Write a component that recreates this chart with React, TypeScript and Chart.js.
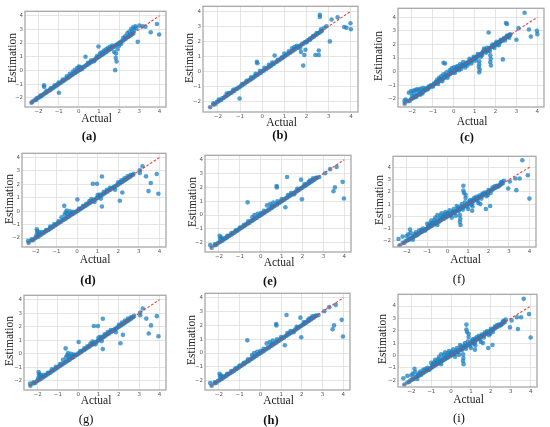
import { useEffect, useRef } from "react"
import { Chart, registerables } from "chart.js"

Chart.register(...registerables)

type Pt = [number, number]

// tick labels shared by every panel
const tickValues = [-2, -1, 0, 1, 2, 3, 4]

// red dashed identity line
const diagonal: Pt[] = [[-2.4, -2.4], [4, 4]]

// dense band along the identity line, common to all panels
const coreBand: Pt[] = [
    [-2.35, -2.36], [-2.2, -2.18], [-2.12, -2.15], [-2.05, -2.02], [-1.98, -1.97], [-1.92, -1.9], [-1.86, -1.88],
    [-1.8, -1.77], [-1.74, -1.74], [-1.68, -1.65], [-1.62, -1.63], [-1.56, -1.54], [-1.5, -1.5], [-1.44, -1.42],
    [-1.38, -1.39], [-1.32, -1.3], [-1.26, -1.27], [-1.2, -1.17], [-1.14, -1.15], [-1.08, -1.05], [-1.02, -1.03],
    [-0.96, -0.93], [-0.9, -0.9], [-0.84, -0.81], [-0.78, -0.79], [-0.72, -0.69], [-0.66, -0.66], [-0.6, -0.57],
    [-0.54, -0.55], [-0.48, -0.45], [-0.42, -0.43], [-0.36, -0.33], [-0.3, -0.3], [-0.24, -0.21], [-0.18, -0.19],
    [-0.12, -0.09], [-0.06, -0.07], [0, 0.02], [0.06, 0.05], [0.12, 0.14], [0.18, 0.17], [0.24, 0.26], [0.3, 0.29],
    [0.36, 0.38], [0.42, 0.41], [0.48, 0.5], [0.54, 0.53], [0.6, 0.62], [0.66, 0.65], [0.72, 0.74], [0.78, 0.77],
    [0.84, 0.86], [0.9, 0.89], [0.96, 0.98], [1.02, 1.01], [1.08, 1.1], [1.14, 1.13], [1.2, 1.22], [1.26, 1.25],
    [1.32, 1.34], [1.38, 1.37], [1.44, 1.46], [1.5, 1.49], [1.56, 1.58], [1.62, 1.61], [1.68, 1.7], [1.74, 1.73],
    [1.8, 1.82], [1.86, 1.85], [1.92, 1.94], [1.98, 1.97], [2.04, 2.06], [2.1, 2.09], [2.16, 2.18], [2.22, 2.21],
    [2.28, 2.3], [2.34, 2.33], [2.4, 2.42], [2.46, 2.45], [2.52, 2.54], [2.58, 2.57], [2.64, 2.66], [2.7, 2.7],
]

const extrasA: Pt[] = [
    [-2.3, -2.28], [-2.1, -2.05], [-1.9, -1.83], [-1.73, -1.09], [-1.72, -1.2], [-1.6, -1.48], [-1.4, -1.3],
    [-1.2, -1.08], [-0.99, -1.63], [-1.0, -0.88], [-0.8, -0.66], [-0.6, -0.43], [-0.45, -0.25], [-0.3, -0.1],
    [-0.2, 0.05], [-0.08, 0.18], [0.0, 0.28], [0.08, 0.25], [0.15, 0.1], [0.33, 1.0], [0.45, 0.55], [0.6, 0.72],
    [0.75, 0.68], [0.9, 1.05], [0.97, 1.75], [1.05, 1.25], [1.15, 1.32], [1.25, 1.45], [1.35, 1.55], [1.45, 1.65],
    [1.55, 1.72], [1.65, 1.8], [1.75, 1.35], [1.8, 0.02], [1.84, 1.23], [1.87, 0.65], [1.83, 0.9], [1.92, 1.55],
    [2.0, 1.8], [2.1, 1.95], [2.2, 2.38], [2.3, 2.5], [2.4, 2.72], [2.5, 2.85], [2.55, 2.6], [2.6, 3.05],
    [2.65, 2.85], [2.7, 3.15], [2.75, 2.95], [2.8, 3.22], [2.85, 3.1], [2.92, 2.09], [3.0, 3.28], [3.15, 3.22],
    [3.3, 3.2], [3.56, 2.79], [3.87, 3.39], [3.98, 2.63],
]

const extrasB: Pt[] = [
    [-2.2, -2.1], [-1.95, -1.85], [-1.6, -1.45], [-1.5, -1.42], [-1.3, -1.2], [-1.02, -1.78], [-0.9, -0.82],
    [-0.7, -0.6], [-0.5, -0.38], [-0.3, -0.15], [-0.24, 0.65], [-0.22, 0.55], [-0.1, 0.05], [0.1, 0.25],
    [0.3, 0.45], [0.45, 0.6], [0.56, 1.07], [0.7, 0.78], [0.9, 0.95], [1.0, 1.2], [1.2, 1.35], [1.35, 1.55],
    [1.45, 1.62], [1.55, 1.7], [1.7, 1.55], [1.85, 0.4], [1.9, 1.1], [1.95, 1.45], [1.75, 1.3], [2.0, 1.95],
    [2.15, 2.1], [2.3, 2.35], [2.4, 1.1], [2.55, 1.1], [2.55, 1.4], [2.45, 2.55], [2.6, 3.75], [2.6, 3.62],
    [2.65, 2.8], [2.8, 2.9], [2.9, 3.0], [3.05, 2.0], [3.13, 3.45], [3.4, 3.6], [3.7, 2.95], [3.8, 2.9],
    [3.98, 3.2], [4.0, 2.8],
]

const extrasC: Pt[] = [
    [-2.36, -2.15], [-2.3, -2.05], [-2.15, -1.55], [-2.05, -1.45], [-1.95, -1.4], [-1.85, -1.35], [-1.76, -1.29],
    [-1.65, -1.3], [-1.55, -1.25], [-1.45, -1.2], [-1.31, -1.22], [-1.2, -1.1], [-1.1, -1.0], [-0.94, -0.87],
    [-1.6, -1.7], [-1.5, -1.6], [-1.8, -1.85], [-0.8, -0.6], [-0.7, -0.45], [-0.6, -0.35], [-0.5, -0.2],
    [-0.49, 0.66], [-0.42, 0.6], [-0.35, -0.05], [-0.2, 0.1], [-0.1, 0.25], [0.0, 0.3], [0.1, 0.35], [0.2, 0.42],
    [0.3, 0.55], [0.4, 0.5], [0.5, 0.45], [0.55, 0.3], [0.6, 0.65], [0.7, 0.6], [0.8, 0.75], [0.9, 0.8],
    [1.0, 0.95], [1.1, 1.05], [1.22, 0.77], [1.22, 0.55], [1.2, 0.35], [1.24, 0.15], [1.22, -0.05], [1.3, 1.1],
    [1.4, 1.5], [1.5, 1.6], [1.6, 1.75], [1.67, 2.88], [1.72, 1.5], [1.75, 1.2], [1.77, 0.95], [1.75, 0.7],
    [1.78, 0.45], [1.9, 1.85], [2.0, 2.05], [2.1, 2.0], [2.2, 2.15], [2.35, 0.9], [2.3, 2.25], [2.4, 2.45],
    [2.5, 3.58], [2.55, 3.5], [2.6, 2.6], [2.7, 2.75], [3.0, 2.35], [3.1, 3.2], [3.39, 4.33], [3.6, 3.1],
    [3.69, 2.58], [3.98, 3.0], [4.0, 2.76],
    [-2.0, -1.75], [-1.9, -1.6], [-1.7, -1.45], [-1.4, -1.35], [-1.25, -1.3], [-1.0, -1.1], [-0.85, -0.75],
    [-0.75, -0.9], [-0.65, -0.55], [-0.55, -0.7], [-0.4, -0.25], [-0.3, -0.45], [-0.15, 0.0], [0.05, -0.1],
    [0.15, 0.25], [0.25, 0.1], [0.35, 0.2], [0.45, 0.7], [0.65, 0.45], [0.75, 0.95], [0.85, 0.6], [0.95, 1.1],
    [1.05, 0.8], [1.15, 1.3], [1.35, 1.2], [1.45, 1.7], [1.55, 1.4], [1.65, 1.55], [1.85, 2.0], [1.95, 1.75],
    [2.05, 2.2], [2.15, 1.95], [2.25, 2.35], [2.45, 2.3], [2.55, 2.65], [2.65, 2.5],
]

// panels (d) and (g)
const extrasD: Pt[] = [
    [-2.37, -2.2], [-2.2, -2.1], [-1.97, -1.8], [-1.95, -1.35], [-1.93, -1.5], [-1.9, -1.65], [-1.85, -1.55],
    [-1.7, -1.55], [-1.5, -1.4], [-1.3, -1.15], [-1.1, -0.95], [-0.9, -0.75], [-0.75, -0.45], [-0.62, 0.4],
    [-0.6, -0.25], [-0.55, -0.1], [-0.5, 0.05], [-0.45, -0.2], [-0.35, 0.0], [-0.3, -0.15], [-0.2, -0.05],
    [0.02, 0.87], [0.1, 0.2], [0.3, 0.4], [0.45, 0.55], [0.6, 0.75], [0.7, 0.9], [0.77, 2.05], [0.97, 2.05],
    [0.85, 0.7], [1.0, 1.2], [1.1, 1.25], [1.16, 0.94], [1.21, 0.35], [1.21, 2.59], [1.3, 1.45], [1.45, 1.6],
    [1.6, 1.75], [1.77, 1.76], [1.85, 1.6], [2.0, 2.15], [2.08, 0.78], [2.15, 2.3], [2.2, 1.4], [2.3, 2.45],
    [2.45, 2.6], [2.6, 2.7], [2.75, 2.8], [3.05, 3.05], [3.05, 2.85], [3.18, 3.35], [3.35, 2.6], [3.47, 1.5],
    [3.58, 2.1], [3.87, 2.78], [3.95, 1.3],
]

// panels (e) and (h)
const extrasE: Pt[] = [
    [-2.42, -2.17], [-2.2, -2.12], [-1.97, -1.5], [-1.95, -1.7], [-1.9, -1.6], [-1.8, -1.7], [-1.6, -1.5],
    [-1.4, -1.3], [-1.2, -1.1], [-1.0, -0.9], [-0.8, -0.7], [-0.63, 0.92], [-0.6, -0.45], [-0.4, -0.15],
    [-0.3, 0.0], [-0.15, 0.1], [0.0, 0.15], [0.15, 0.3], [0.3, 0.7], [0.45, 0.8], [0.55, 0.65], [0.6, 0.9],
    [0.76, 2.1], [0.77, 2.0], [0.8, 1.0], [1.0, 1.15], [1.18, 0.57], [1.26, 2.75], [1.3, 1.45], [1.45, 1.6],
    [1.6, 1.5], [1.75, 1.9], [1.93, 2.56], [1.97, 1.14], [2.1, 2.25], [2.3, 2.4], [2.37, 2.52], [2.5, 2.65],
    [2.65, 2.7], [2.8, 2.75], [3.08, 3.02], [3.32, 3.32], [3.48, 1.72], [3.55, 2.0], [3.63, 3.48], [3.92, 2.4],
    [3.98, 1.2],
]

// panels (f) and (i)
const extrasF: Pt[] = [
    [-2.4, -1.85], [-2.2, -1.65], [-2.0, -1.6], [-1.92, -1.47], [-1.84, -1.08], [-1.8, -1.35], [-1.7, -1.9],
    [-1.68, -1.65], [-1.55, -1.3], [-1.4, -1.15], [-1.2, -1.0], [-1.0, -0.6], [-0.9, -0.7], [-0.8, -0.35],
    [-0.7, -0.5], [-0.6, -0.1], [-0.56, -0.44], [-0.5, 0.1], [-0.5, -0.7], [-0.4, -0.2], [-0.3, 0.25],
    [-0.2, 0.0], [-0.1, 0.35], [0.0, 0.2], [0.1, 0.5], [0.2, -0.1], [0.3, 0.6], [0.4, 0.05], [0.45, 0.85],
    [0.5, 0.7], [0.6, 0.1], [0.62, -0.2], [0.6, -0.45], [0.63, -0.7], [0.7, 1.0], [0.77, 2.5], [0.77, 2.1],
    [0.8, 1.9], [0.88, 1.75], [0.88, 1.5], [1.0, 0.6], [1.1, 1.3], [1.2, 1.36], [1.2, 1.05], [1.22, 0.8],
    [1.2, 0.46], [1.4, 1.6], [1.5, 1.1], [1.6, 1.0], [1.7, 1.85], [1.87, 0.6], [1.97, 1.75], [2.08, 0.85],
    [2.2, 2.35], [2.4, 2.5], [2.6, 2.75], [2.75, 2.9], [2.96, 2.27], [3.04, 2.84], [3.31, 3.09], [3.36, 2.14],
    [3.52, 3.09], [3.65, 4.58], [3.92, 3.35], [4.0, 1.45],
    [-1.6, -1.45], [-1.5, -1.55], [-1.3, -1.1], [-1.1, -1.15], [-0.95, -0.85], [-0.85, -0.55], [-0.75, -0.65],
    [-0.65, -0.3], [-0.45, -0.35], [-0.35, 0.05], [-0.25, -0.1], [-0.15, 0.2], [-0.05, 0.05], [0.05, 0.3],
    [0.15, 0.1], [0.25, 0.4], [0.35, 0.3], [0.55, 0.45], [0.65, 0.8], [0.75, 0.55], [0.85, 1.15], [0.95, 0.8],
    [1.05, 1.2], [1.15, 0.95], [1.3, 1.5], [1.45, 1.3], [1.55, 1.7], [1.65, 1.45], [1.8, 1.95], [1.9, 1.65],
    [2.0, 2.15], [2.1, 1.9], [2.3, 2.45], [2.5, 2.45], [2.65, 2.8],
]

interface PanelSpec {
    letter: string
    bold: boolean
    extras: Pt[]
    // plot area: left, top, right, bottom (page px)
    box: [number, number, number, number]
    yMin: number
    yMax: number
    estGap: number
    actGap: number
    letterPos: [number, number]
}

const panels: PanelSpec[] = [
    { letter: "a", bold: true, extras: extrasA, box: [25, 8, 168, 107], yMin: -2.67, yMax: 4.32, estGap: 12, actGap: 12, letterPos: [89, 136] },
    { letter: "b", bold: true, extras: extrasB, box: [203, 3, 360, 112], yMin: -2.67, yMax: 4.32, estGap: 13, actGap: 11, letterPos: [280, 135] },
    { letter: "c", bold: true, extras: extrasC, box: [398, 5, 546, 107], yMin: -2.6, yMax: 4.66, estGap: 19, actGap: 15, letterPos: [467, 137] },
    { letter: "d", bold: true, extras: extrasD, box: [22, 150, 168, 247], yMin: -2.67, yMax: 4.32, estGap: 12, actGap: 13, letterPos: [88, 280] },
    { letter: "e", bold: true, extras: extrasE, box: [205, 152, 353, 252], yMin: -2.67, yMax: 4.32, estGap: 12, actGap: 11, letterPos: [270, 281] },
    { letter: "f", bold: false, extras: extrasF, box: [393, 153, 538, 247], yMin: -2.5, yMax: 4.9, estGap: 13, actGap: 13, letterPos: [459, 279] },
    { letter: "g", bold: false, extras: extrasD, box: [24, 292, 168, 390], yMin: -2.67, yMax: 4.32, estGap: 14, actGap: 11, letterPos: [86, 419] },
    { letter: "h", bold: true, extras: extrasE, box: [205, 290, 352, 390], yMin: -2.67, yMax: 4.32, estGap: 13, actGap: 11, letterPos: [271, 420] },
    { letter: "i", bold: false, extras: extrasF, box: [398, 291, 539, 387], yMin: -2.55, yMax: 4.95, estGap: 15, actGap: 13, letterPos: [459, 418] },
]

const PAD_L = 12
const PAD_B = 8
const PAD_T = 2
const PAD_R = 2

const serif = '"Liberation Serif", "Times New Roman", serif'

const framePlugin = {
    id: "frame",
    afterDraw(chart: Chart) {
        const { ctx, chartArea: a } = chart
        ctx.save()
        ctx.strokeStyle = "#a8a8a8"
        ctx.lineWidth = 1.3
        ctx.strokeRect(a.left, a.top, a.right - a.left, a.bottom - a.top)
        ctx.restore()
    },
}

const fmtTick = (v: number | string) => String(v).replace("-", "\u2212")

function ScatterPanel({ spec }: { spec: PanelSpec }) {
    const chartRef = useRef<HTMLCanvasElement>(null)
    const chartInstance = useRef<Chart | null>(null)
    const [left, top, right, bottom] = spec.box

    useEffect(() => {
        if (!chartRef.current) return
        if (chartInstance.current) chartInstance.current.destroy()

        const points = [...coreBand, ...spec.extras].map(([x, y]) => ({ x, y }))
        const setTicks = (scale: any) => {
            scale.ticks = tickValues.map((value) => ({ value }))
        }
        const tickFont = { size: 5.5, family: '"DejaVu Sans", sans-serif' }
        const grid = { color: "#dedede", lineWidth: 0.8, drawTicks: false }

        chartInstance.current = new Chart(chartRef.current, {
            type: "scatter",
            data: {
                datasets: [
                    {
                        data: diagonal.map(([x, y]) => ({ x, y })),
                        showLine: true,
                        borderColor: "#ee3b3b",
                        borderWidth: 1.1,
                        borderDash: [2.5, 1.8],
                        pointRadius: 0,
                        order: 0,
                    },
                    {
                        data: points,
                        backgroundColor: "rgba(28, 128, 192, 0.75)",
                        borderWidth: 0,
                        pointRadius: 2.3,
                        order: 1,
                    },
                ],
            },
            options: {
                animation: false,
                responsive: true,
                maintainAspectRatio: false,
                events: [],
                layout: { padding: { left: 0, top: PAD_T, right: PAD_R, bottom: 0 } },
                plugins: { legend: { display: false }, tooltip: { enabled: false } },
                scales: {
                    x: {
                        type: "linear",
                        min: -2.67,
                        max: 4.32,
                        afterBuildTicks: setTicks,
                        afterFit: (scale: any) => {
                            scale.height = PAD_B
                        },
                        grid,
                        border: { display: false },
                        ticks: { font: tickFont, color: "#555", padding: 1.5, maxRotation: 0, autoSkip: false, callback: fmtTick },
                    },
                    y: {
                        type: "linear",
                        min: spec.yMin,
                        max: spec.yMax,
                        afterBuildTicks: setTicks,
                        afterFit: (scale: any) => {
                            scale.width = PAD_L
                        },
                        grid,
                        border: { display: false },
                        ticks: { font: tickFont, color: "#555", padding: 2, autoSkip: false, callback: fmtTick },
                    },
                },
            },
            plugins: [framePlugin],
        })

        return () => {
            if (chartInstance.current) {
                chartInstance.current.destroy()
                chartInstance.current = null
            }
        }
    }, [spec])

    const cx = (left + right) / 2
    const cy = (top + bottom) / 2

    return (
        <>
            <div
                style={{
                    position: "absolute",
                    left: left - PAD_L,
                    top: top - PAD_T,
                    width: right - left + PAD_L + PAD_R,
                    height: bottom - top + PAD_T + PAD_B,
                }}
            >
                <canvas ref={chartRef} />
            </div>
            <div
                style={{
                    position: "absolute",
                    left: left - spec.estGap,
                    top: cy,
                    transform: "translate(-50%, -50%) rotate(-90deg)",
                    fontFamily: serif,
                    fontSize: 11.5,
                    color: "#222",
                    whiteSpace: "nowrap",
                    lineHeight: 1,
                }}
            >
                Estimation
            </div>
            <div
                style={{
                    position: "absolute",
                    left: cx,
                    top: bottom + spec.actGap,
                    transform: "translate(-50%, -50%)",
                    fontFamily: serif,
                    fontSize: 11.5,
                    color: "#222",
                    whiteSpace: "nowrap",
                    lineHeight: 1,
                }}
            >
                Actual
            </div>
            <div
                style={{
                    position: "absolute",
                    left: spec.letterPos[0],
                    top: spec.letterPos[1],
                    transform: "translate(-50%, -50%)",
                    fontFamily: serif,
                    fontSize: 12.5,
                    fontWeight: spec.bold ? "bold" : "normal",
                    color: "#111",
                    whiteSpace: "nowrap",
                    lineHeight: 1,
                }}
            >
                ({spec.letter})
            </div>
        </>
    )
}

export default function App() {
    return (
        <div style={{ position: "fixed", left: 0, top: 0, width: 550, height: 427, background: "#fff", overflow: "hidden" }}>
            {panels.map((p) => (
                <ScatterPanel key={p.letter} spec={p} />
            ))}
        </div>
    )
}
